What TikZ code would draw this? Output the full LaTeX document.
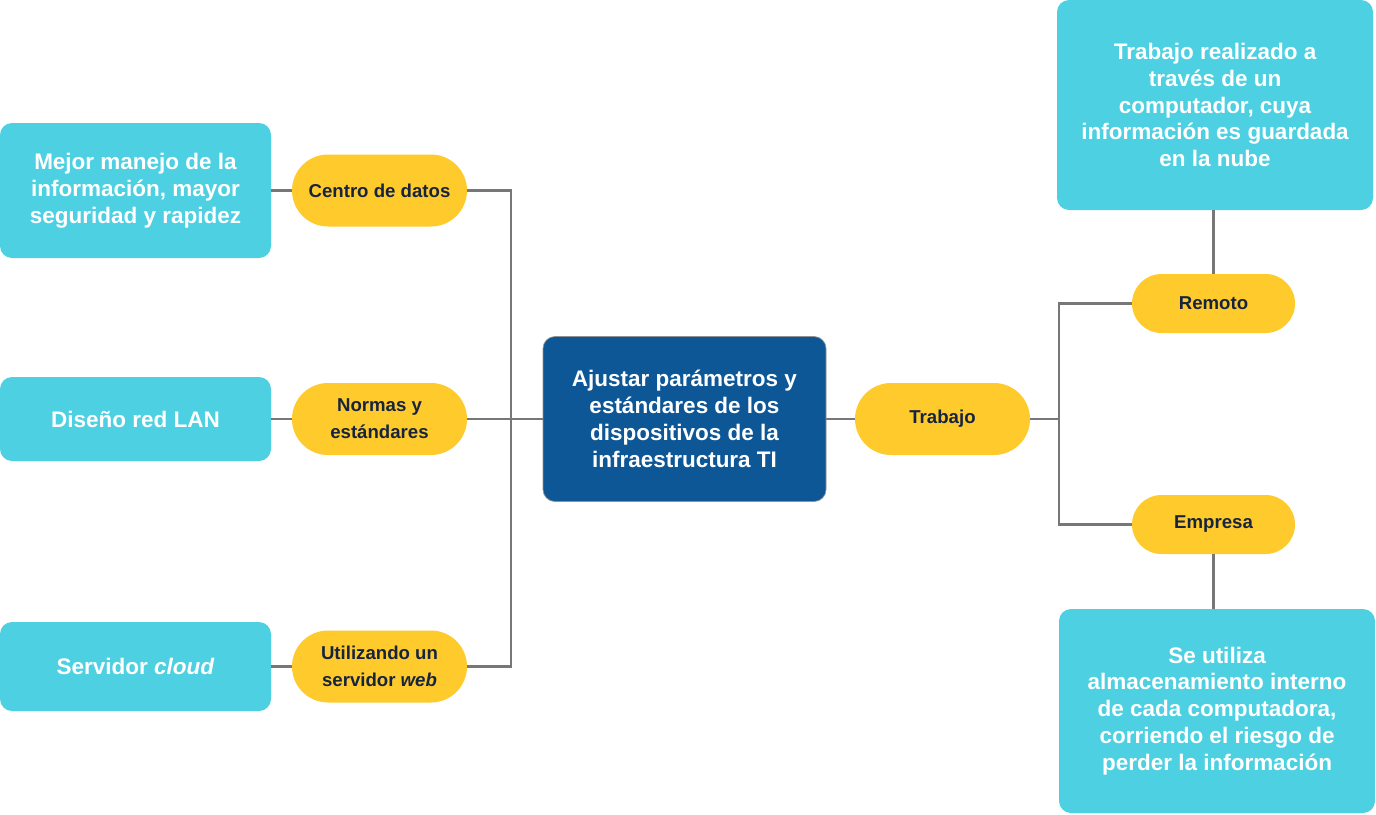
\documentclass[tikz,border=0pt]{standalone}
\usepackage{fontspec}
\setmainfont{Liberation Sans}
\usetikzlibrary{shapes.misc}

\definecolor{cajaCian}{HTML}{4DD0E1}
\definecolor{pildora}{HTML}{FFCA2C}
\definecolor{azulCentro}{HTML}{0D5797}
\definecolor{textoPildora}{HTML}{16243F}
\definecolor{linea}{HTML}{777777}

\begin{document}
\begin{tikzpicture}[
    cian/.style={draw=none, fill=cajaCian, rounded corners=0.24cm, text=white, align=center,
        font=\fontsize{12.8}{15.3}\selectfont\bfseries, inner sep=0pt},
    pill/.style={rounded rectangle, fill=pildora, text=textoPildora, align=center,
        font=\fontsize{10.6}{15.3}\selectfont\bfseries, inner sep=0pt},
    conector/.style={draw=linea, line width=1.2pt}
]
    % Define sizes
    \def\pillw{3.5}
    \def\pillh{1.44}
    \def\busL{10.22}
    \def\busR{21.18}

    \useasboundingbox (0,0) rectangle (27.52,-16.28);

    % Left column (cyan boxes)
    \node[cian, minimum width=5.42cm, minimum height=2.7cm] (manejo) at (2.71,-3.81)
        {Mejor manejo de la\\información, mayor\\seguridad y rapidez};
    \node[cian, minimum width=5.42cm, minimum height=1.68cm] (lan) at (2.71,-8.38)
        {Diseño red LAN};
    \node[cian, minimum width=5.42cm, minimum height=1.78cm] (cloud) at (2.71,-13.33)
        {Servidor \textit{cloud}};

    % Left pills
    \node[pill, minimum width=\pillw cm, minimum height=\pillh cm] (datos) at (7.59,-3.81) {Centro de datos};
    \node[pill, minimum width=\pillw cm, minimum height=\pillh cm] (normas) at (7.59,-8.38) {Normas y\\estándares};
    \node[pill, minimum width=\pillw cm, minimum height=\pillh cm] (web) at (7.59,-13.33) {Utilizando un\\servidor \textit{web}};

    % Center
    \node[rounded corners=0.24cm, fill=azulCentro, draw=linea!80, line width=0.4pt, text=white, align=center,
        font=\fontsize{12.8}{15.3}\selectfont\bfseries, minimum width=5.66cm, minimum height=3.3cm] (ajustar) at (13.69,-8.38)
        {Ajustar parámetros y\\estándares de los\\dispositivos de la\\infraestructura TI};

    \node[pill, minimum width=\pillw cm, minimum height=\pillh cm] (trabajo) at (18.85,-8.38) {Trabajo};

    % Right pills
    \node[pill, minimum width=3.26cm, minimum height=1.18cm] (remoto) at (24.27,-6.07) {Remoto};
    \node[pill, minimum width=3.26cm, minimum height=1.18cm] (empresa) at (24.27,-10.49) {Empresa};

    % Right boxes
    \node[cian, minimum width=6.32cm, minimum height=4.2cm] (nube) at (24.30,-2.1)
        {Trabajo realizado a\\través de un\\computador, cuya\\información es guardada\\en la nube};
    \node[cian, minimum width=6.32cm, minimum height=4.08cm] (interno) at (24.34,-14.22)
        {Se utiliza\\almacenamiento interno\\de cada computadora,\\corriendo el riesgo de\\perder la información};

    % Connectors left
    \draw[conector] (manejo.east) -- (datos.west);
    \draw[conector] (lan.east) -- (normas.west);
    \draw[conector] (cloud.east) -- (web.west);
    \coordinate (busA) at (\busL,-3.81);
    \coordinate (busC) at (\busL,-13.33);
    \draw[conector] (datos.east) -- (busA) -- (busC) -- (web.east);
    \draw[conector] (normas.east) -- (ajustar.west);

    % Connectors right
    \draw[conector] (ajustar.east) -- (trabajo.west);
    \coordinate (busR) at (\busR,-8.38);
    \draw[conector] (trabajo.east) -- (busR);
    \draw[conector] (remoto.west) -| (busR) |- (empresa.west);
    \draw[conector] (remoto.north) -- (remoto.north |- nube.south);
    \draw[conector] (empresa.south) -- (empresa.south |- interno.north);
\end{tikzpicture}
\end{document}
